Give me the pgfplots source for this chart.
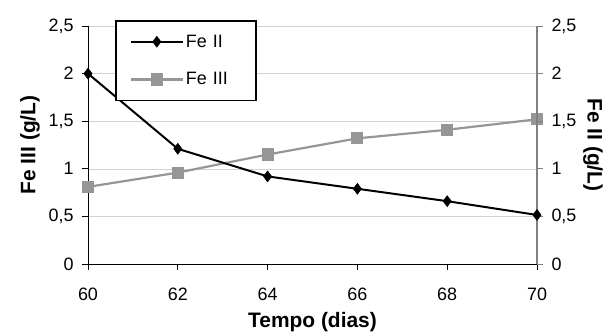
\documentclass[border=0pt]{standalone}
\usepackage{pgfplots}
\pgfplotsset{compat=1.18}
\usepackage{fontspec}
\setmainfont{Liberation Sans}
\definecolor{feiii}{RGB}{150,150,150}
\definecolor{gridc}{RGB}{210,210,210}
\definecolor{raxis}{RGB}{128,128,128}
\begin{document}
\begin{tikzpicture}
\pgfplotsset{
  common/.style={
    scale only axis, width=449bp, height=238bp,
    xmin=60, xmax=70, ymin=0, ymax=2.5,
    xtick={60,62,...,70}, ytick={0,0.5,...,2.5},
    tick align=outside, major tick length=6bp,
    /pgf/number format/assume math mode=true,
    /pgf/number format/use comma,
    ticklabel style={font=\fontsize{18}{21}\selectfont},
    label style={font=\bfseries\fontsize{21}{24}\selectfont},
    clip=false,
  },
}
\begin{axis}[common,
  axis x line*=bottom, axis y line*=left,
  axis line style={black, line width=0.8pt},
  tick style={black, line width=0.8pt},
  ymajorgrids, grid style={gridc, line width=0.6pt},
  xlabel={Tempo (dias)}, ylabel={Fe III (g/L)},
  xlabel style={yshift=-5bp},
  ylabel style={yshift=2bp},
  xticklabel style={yshift=-14bp},
  yticklabel style={xshift=-5bp},
]
\addplot[feiii, line width=2.2pt, mark=square*, mark size=5bp, mark options={solid, fill=feiii, draw=feiii}]
  coordinates {(60,0.81) (62,0.96) (64,1.15) (66,1.32) (68,1.41) (70,1.52)};
\end{axis}
\begin{axis}[common,
  axis x line=none, axis y line*=right,
  axis line style={raxis, line width=1.2pt},
  ytick style={raxis, line width=0.8pt},
  ylabel={Fe II (g/L)},
  ylabel style={rotate=180},
  yticklabel style={xshift=5bp},
  legend style={at={(0.06,1.025)}, anchor=north west, draw=black, line width=1.6pt,
    fill=white, font=\fontsize{18}{21}\selectfont,
    inner xsep=14bp, inner ysep=12bp, row sep=20bp,
    legend cell align=left, text width=54bp},
  legend image code/.code={\draw[#1, mark repeat=2, mark phase=2] plot coordinates {(0bp,0bp) (26bp,0bp) (52bp,0bp)};},
]
\addplot[black, line width=2pt, mark=diamond*, mark size=5.5bp, mark options={solid, fill=black, line width=0.5pt}]
  coordinates {(60,2.0) (62,1.21) (64,0.92) (66,0.79) (68,0.66) (70,0.515)};
\addlegendentry{Fe II}
\addlegendimage{feiii, line width=2.2pt, mark=square*, mark size=5bp, mark options={solid, fill=feiii, draw=feiii}}
\addlegendentry{Fe III}
\end{axis}
\pgfresetboundingbox
\useasboundingbox (-88bp,-72bp) rectangle (520bp,26bp+238bp);
\end{tikzpicture}
\end{document}
